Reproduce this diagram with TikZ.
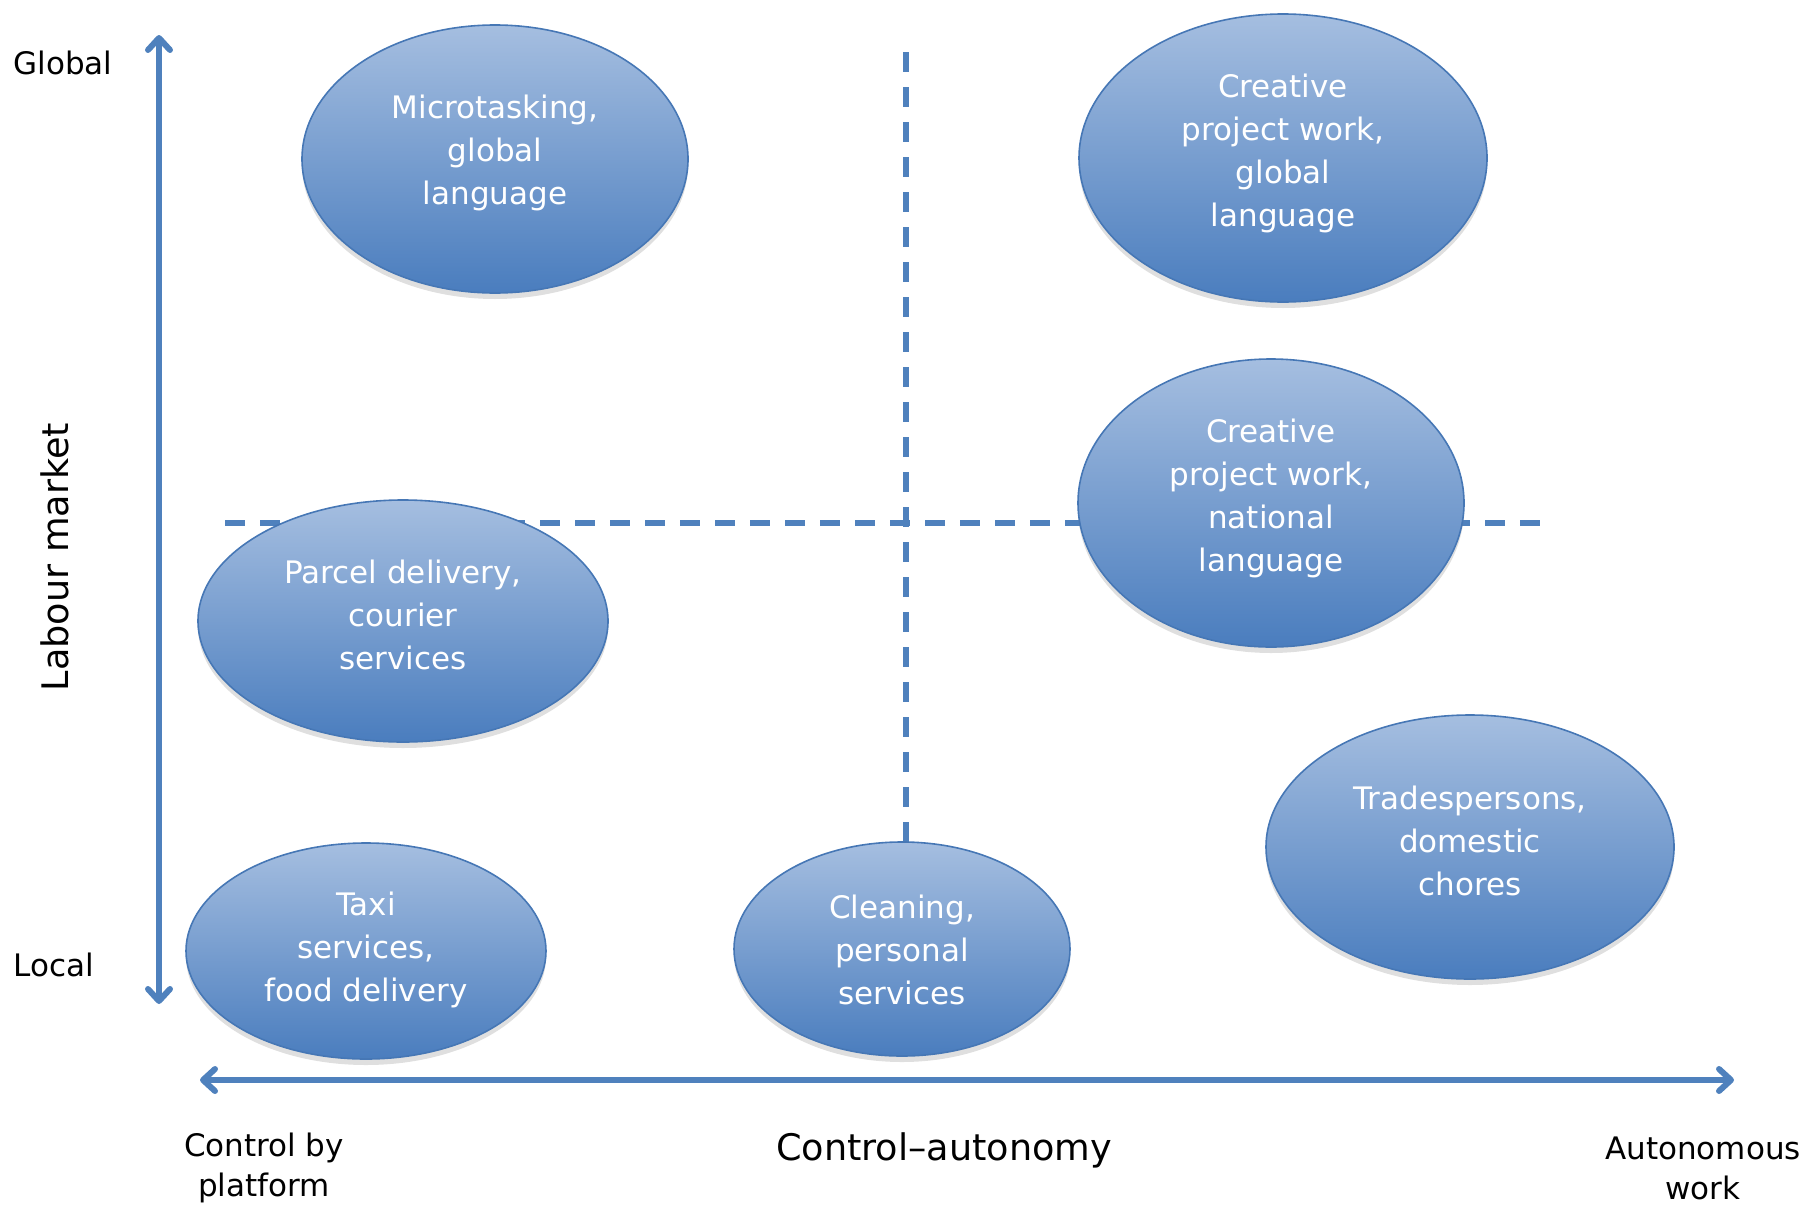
\documentclass[tikz,border=0pt]{standalone}
\usepackage{fontspec}
\setmainfont{DejaVu Sans}
\usetikzlibrary{shapes.geometric,arrows.meta,shadows}
\definecolor{axisblue}{HTML}{4F81BD}
\definecolor{bubbletop}{HTML}{A5BEE0}
\definecolor{bubblebot}{HTML}{4A7DBE}
\definecolor{bubbleedge}{HTML}{4677B5}
\tikzset{
  bubble/.style={ellipse, inner sep=0pt, draw=bubbleedge, line width=0.8pt,
    top color=bubbletop, bottom color=bubblebot,
    drop shadow={opacity=0.25, shadow xshift=0pt, shadow yshift=-3pt}},
  bubbletext/.style={text=white, align=center, font=\fontsize{15.5}{21.5}\selectfont},
  axislabel/.style={text=black, align=center, font=\fontsize{15.5}{20}\selectfont},
  bigaxislabel/.style={text=black, font=\fontsize{18.3}{22}\selectfont},
  axisline/.style={draw=axisblue, line width=3pt,
    arrows={Straight Barb[length=6pt, width=11pt, round]-Straight Barb[length=6pt, width=11pt, round]}},
  divider/.style={draw=axisblue, line width=2.8pt, dash pattern=on 10pt off 7.5pt}
}
\begin{document}
\begin{tikzpicture}[x=0.5pt, y=-0.5pt]
\useasboundingbox (0,0) rectangle (1809,1205);

% quadrant dividers
\coordinate (vtop) at (906,52);
\coordinate (vbot) at (906,842);
\coordinate (hleft) at (225,523);
\coordinate (hright) at (1548,523);
\draw[divider] (vtop) -- (vbot);
\draw[divider] (hleft) -- (hright);

% axes
\coordinate (ytop) at (159,35);
\coordinate (ybot) at (159,1004);
\coordinate (xleft) at (200,1080);
\coordinate (xright) at (1734,1080);
\draw[axisline] (ybot) -- (ytop);
\draw[axisline] (xleft) -- (xright);

% categories of platform work
\node[bubble, minimum width=193pt, minimum height=134pt] (micro) at (495,159) {};
\node[bubbletext] (microtxt) at (495,153) {Microtasking,\\global\\language};

\node[bubble, minimum width=204pt, minimum height=144pt] (cglobal) at (1283,158) {};
\node[bubbletext] (cglobaltxt) at (1283,153) {Creative\\project work,\\global\\language};

\node[bubble, minimum width=193pt, minimum height=144pt] (cnational) at (1271,503) {};
\node[bubbletext] (cnationaltxt) at (1271,498) {Creative\\project work,\\national\\language};

\node[bubble, minimum width=205pt, minimum height=121pt] (parcel) at (403,621) {};
\node[bubbletext] (parceltxt) at (403,615) {Parcel delivery,\\courier\\services};

\node[bubble, minimum width=180pt, minimum height=108pt] (taxi) at (366,951) {};
\node[bubbletext] (taxitxt) at (366,950) {Taxi\\services,\\food delivery};

\node[bubble, minimum width=168pt, minimum height=107pt] (cleaning) at (902,949) {};
\node[bubbletext] (cleaningtxt) at (902,950) {Cleaning,\\personal\\services};

\node[bubble, minimum width=204pt, minimum height=132pt] (trades) at (1470,847) {};
\node[bubbletext] (tradestxt) at (1470,841) {Tradespersons,\\domestic\\chores};

% axis labels
\node[axislabel] (global) at (63,63) {Global};
\node[axislabel] (local) at (54,965) {Local};
\node[bigaxislabel, rotate=90] (labour) at (55,557) {Labour market};
\node[bigaxislabel] (ctrlaut) at (944,1150) {Control–autonomy};
\node[axislabel] (ctrl) at (264,1168) {Control by\\platform};
\node[axislabel] (auto) at (1703,1168) {Autonomous\\work};
\end{tikzpicture}
\end{document}
